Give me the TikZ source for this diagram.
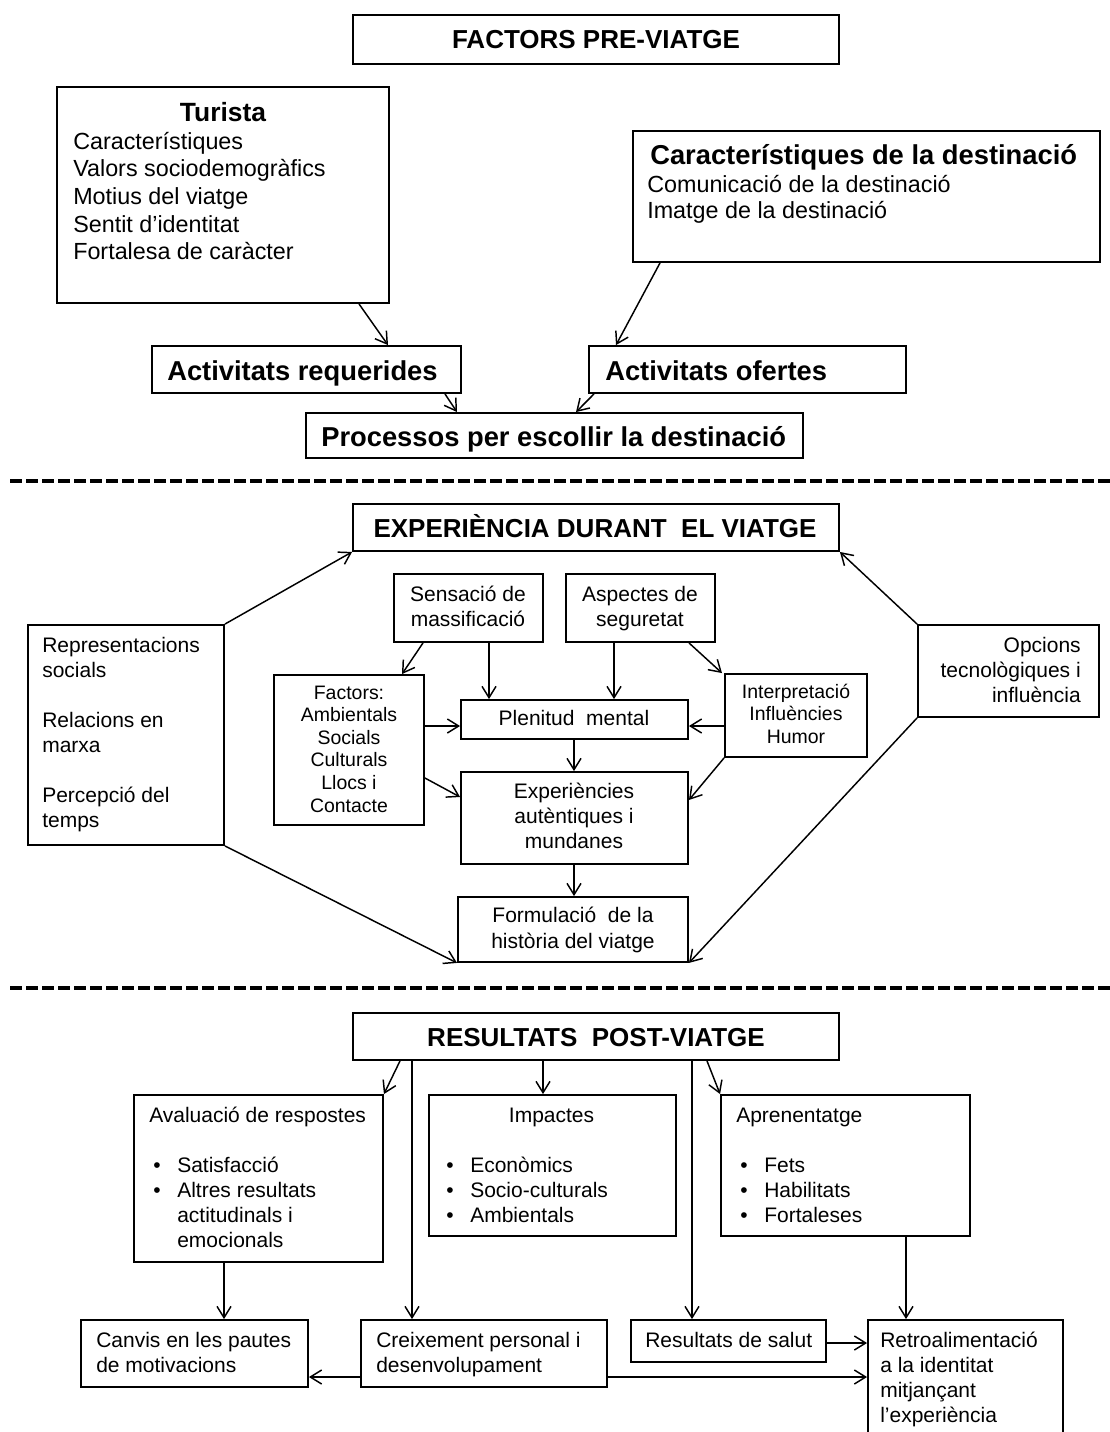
\documentclass[tikz,border=0pt]{standalone}
\usepackage{fontspec}
\setmainfont{Liberation Sans}
\usetikzlibrary{arrows.meta,fit}
\newcommand\fnTop{\fontsize{17.5pt}{20.8pt}\selectfont}
\newcommand\fnMid{\fontsize{15.75pt}{18.75pt}\selectfont}
\newcommand\fnSm{\fontsize{14.6pt}{16.95pt}\selectfont}
\newcommand\fnBig{\fontsize{20.5pt}{24pt}\selectfont\bfseries}
\newcommand\fnHead{\fontsize{19.5pt}{23pt}\selectfont\bfseries}
\newcommand\bul{\hspace*{3pt}\makebox[18pt][l]{\textbullet}}
\newcommand\bulz{\makebox[18pt][l]{\textbullet}}
\begin{document}
\begin{tikzpicture}[x=0.75pt,y=-0.75pt,
  box/.style={draw, line width=1.4pt, inner sep=0pt},
  arr/.style={-{Straight Barb[length=8.5pt,width=10.5pt,line width=1.1pt]}, line width=1.1pt},
  tx/.style={inner sep=0pt, anchor=base west},
  tc/.style={inner sep=0pt, anchor=base},
  tr/.style={inner sep=0pt, anchor=base east},
  sep/.style={line width=2.6pt, dash pattern=on 9pt off 3pt}]
\useasboundingbox (0,0) rectangle (1110,1432);

% ---------- top section ----------
\node[box, fit={(353,15) (839,64)}] (factors) {};
\node[tc] (factors-t) at (596,48) {\fnHead FACTORS PRE-VIATGE};

\node[box, fit={(57,87) (389,303)}] (turista) {};
\node[tc] (turista-h) at (223,121) {\fontsize{19.8pt}{24pt}\selectfont\bfseries Turista};
\node[tx] (turista-t) at (73,149) {\parbox[t]{250pt}{\fnTop\raggedright Característiques\\Valors sociodemogràfics\\Motius del viatge\\Sentit d’identitat\\Fortalesa de caràcter}};

\node[box, fit={(633,131) (1100,262)}] (dest) {};
\node[tx] (dest-h) at (650,164) {\fnBig Característiques de la destinació};
\node[tx] (dest-t) at (647,192) {\parbox[t]{300pt}{\fontsize{17.5pt}{19.6pt}\selectfont\raggedright Comunicació de la destinació\\Imatge de la destinació}};

\node[box, fit={(152,346) (461,393)}] (actreq) {};
\node[tx] (actreq-t) at (167,380) {\fnBig Activitats requerides};

\node[box, fit={(589,346) (906,393)}] (actof) {};
\node[tx] (actof-t) at (605,380) {\fnBig Activitats ofertes};

\node[box, fit={(306,413) (803,458)}] (proc) {};
\node[tx] (proc-t) at (321,446) {\fnBig Processos per escollir la destinació};

\draw[arr] (turista.south -| 359,0) -- (actreq.north -| 388,0);
\draw[arr] (dest.south -| 660,0) -- (actof.north -| 616,0);
\draw[arr] (actreq.south -| 445,0) -- (proc.north -| 457,0);
\draw[arr] (actof.south -| 594,0) -- (proc.north -| 576,0);

\coordinate (d1a) at (10,481);
\coordinate (d1b) at (1110,481);
\draw[sep] (d1a) -- (d1b);

% ---------- middle section ----------
\node[box, fit={(353,504) (839,551)}] (exp) {};
\node[tc] (exp-t) at (595,537) {\fnHead EXPERIÈNCIA DURANT\ \ EL VIATGE};

\node[box, fit={(28,625) (224,845)}] (rep) {};
\node[tx] (rep-t) at (42,652) {\parbox[t]{200pt}{\fnMid\raggedright Representacions\\socials\\\mbox{}\\Relacions en\\marxa\\\mbox{}\\Percepció del\\temps}};

\node[box, fit={(394,574) (543,642)}] (sens) {};
\node[tc] (sens-t) at (468,601) {\parbox[t]{150pt}{\fnMid\centering Sensació de\\massificació}};

\node[box, fit={(566,574) (715,642)}] (asp) {};
\node[tc] (asp-t) at (640,601) {\parbox[t]{150pt}{\fnMid\centering Aspectes de\\seguretat}};

\node[box, fit={(274,675) (424,825)}] (factorsb) {};
\node[tc] (factorsb-t) at (349,699) {\parbox[t]{150pt}{\fnSm\centering Factors:\\Ambientals\\Socials\\Culturals\\Llocs i\\Contacte}};

\node[box, fit={(461,700) (688,739)}] (plen) {};
\node[tc] (plen-t) at (574,725) {\fnMid Plenitud\ \ mental};

\node[box, fit={(461,772) (688,864)}] (expb) {};
\node[tc] (expb-t) at (574,798) {\parbox[t]{160pt}{\fnMid\centering Experiències\\autèntiques i\\mundanes}};

\node[box, fit={(458,897) (688,962)}] (form) {};
\node[tc] (form-t) at (573,922) {\parbox[t]{170pt}{\fontsize{15.75pt}{19.8pt}\selectfont\centering Formulació\ \ de la\\història del viatge}};

\node[box, fit={(725,674) (867,757)}] (interp) {};
\node[tc] (interp-t) at (796,698) {\parbox[t]{150pt}{\fnSm\centering Interpretació\\Influències\\Humor}};

\node[box, fit={(918,625) (1099,717)}] (opc) {};
\node[tr] (opc-t) at (1081,652) {\parbox[t]{160pt}{\fnMid\raggedleft Opcions\\tecnològiques i\\influència}};

\draw[arr] (rep.north east) -- (exp.south west);
\draw[arr] (rep.south east) -- (form.south west);
\draw[arr] (opc.north west) -- (exp.south east);
\draw[arr] (opc.south west) -- (form.south east);
\draw[arr] (sens.south -| 423,0) -- (factorsb.north -| 402,0);
\draw[arr] (sens.south -| 489,0) -- (plen.north -| 489,0);
\draw[arr] (asp.south -| 614,0) -- (plen.north -| 614,0);
\draw[arr] (asp.south -| 689,0) -- (interp.north -| 722,0);
\draw[arr] (factorsb.east |- 0,726) -- (plen.west |- 0,726);
\draw[arr] (factorsb.east |- 0,778) -- (expb.west |- 0,797);
\draw[arr] (interp.west |- 0,726) -- (plen.east |- 0,726);
\draw[arr] (interp.south west) -- (expb.east |- 0,800);
\draw[arr] (plen.south -| 574,0) -- (expb.north -| 574,0);
\draw[arr] (expb.south -| 574,0) -- (form.north -| 574,0);

\coordinate (d2a) at (10,988);
\coordinate (d2b) at (1110,988);
\draw[sep] (d2a) -- (d2b);

% ---------- bottom section ----------
\node[box, fit={(353,1013) (839,1060)}] (res) {};
\node[tc] (res-t) at (596,1046) {\fnHead RESULTATS\ \ POST-VIATGE};

\node[box, fit={(134,1095) (383,1262)}] (aval) {};
\node[tx] (aval-t) at (149,1122) {\parbox[t]{220pt}{\fnMid\raggedright Avaluació de respostes\\\mbox{}\\\bul Satisfacció\\\bul Altres resultats\\\hspace*{21pt}actitudinals i\\\hspace*{21pt}emocionals}};

\node[box, fit={(429,1095) (676,1236)}] (imp) {};
\node[tx] (imp-t) at (446,1122) {\parbox[t]{220pt}{\fnMid\raggedright\hspace*{47pt}Impactes\\\mbox{}\\\bulz Econòmics\\\bulz Socio-culturals\\\bulz Ambientals}};

\node[box, fit={(721,1095) (970,1236)}] (apren) {};
\node[tx] (apren-t) at (736,1122) {\parbox[t]{220pt}{\fnMid\raggedright Aprenentatge\\\mbox{}\\\bul Fets\\\bul Habilitats\\\bul Fortaleses}};

\node[box, fit={(81,1320) (308,1387)}] (canvis) {};
\node[tx] (canvis-t) at (96,1347) {\parbox[t]{220pt}{\fnMid\raggedright Canvis en les pautes\\de motivacions}};

\node[box, fit={(361,1320) (607,1387)}] (creix) {};
\node[tx] (creix-t) at (376,1347) {\parbox[t]{220pt}{\fnMid\raggedright Creixement personal i\\desenvolupament}};

\node[box, fit={(631,1320) (826,1362)}] (salut) {};
\node[tx] (salut-t) at (645,1347) {\fnMid Resultats de salut};

\node[box, fit={(868,1320) (1063,1450)}] (retro) {};
\node[tx] (retro-t) at (880,1347) {\parbox[t]{200pt}{\fnMid\raggedright Retroalimentació\\a la identitat\\mitjançant\\l’experiència}};

\draw[arr] (res.south -| 400,0) -- (aval.north east);
\draw[arr] (res.south -| 412,0) -- (creix.north -| 412,0);
\draw[arr] (res.south -| 543,0) -- (imp.north -| 543,0);
\draw[arr] (res.south -| 692,0) -- (salut.north -| 692,0);
\draw[arr] (res.south -| 707,0) -- (apren.north west);
\draw[arr] (aval.south -| 224,0) -- (canvis.north -| 224,0);
\draw[arr] (apren.south -| 906,0) -- (retro.north -| 906,0);
\draw[arr] (creix.west |- 0,1377) -- (canvis.east |- 0,1377);
\draw[arr] (salut.east |- 0,1343) -- (retro.west |- 0,1343);
\draw[arr] (creix.east |- 0,1377) -- (retro.west |- 0,1377);
\end{tikzpicture}
\end{document}
